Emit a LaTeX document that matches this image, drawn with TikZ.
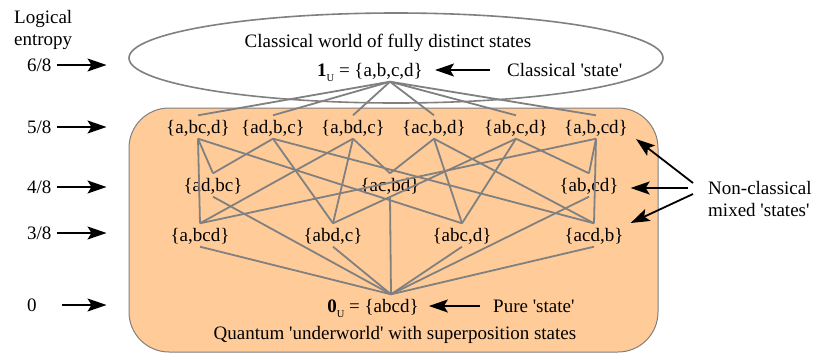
\documentclass[tikz,border=0pt]{standalone}
\usepackage{fontspec}
\setmainfont{Liberation Serif}[Ligatures=TeXOff]
\usepackage{tikz}
\usetikzlibrary{arrows.meta,positioning,shapes.geometric}
\definecolor{edgegray}{HTML}{808080}
\definecolor{peach}{HTML}{FFCC99}
\newcommand{\usub}{\raisebox{-5pt}{\fontsize{10.5}{11}\selectfont U}}

\begin{document}
\begin{tikzpicture}[
  x=1pt,y=-1pt,
  font=\fontsize{19}{22.5}\selectfont,
  state/.style={inner sep=0pt,text height=18pt,text depth=5pt},
  edge/.style={draw=edgegray,line width=1.8pt},
  arrow/.style={-{Stealth[length=19pt,width=13pt,inset=4pt]},line width=1.8pt},
  region/.style={draw=edgegray,line width=1pt,fill=peach,rounded corners=40pt},
  world/.style={ellipse,draw=edgegray,line width=1.6pt,inner sep=0pt},
  lbl/.style={inner sep=0pt,anchor=west,align=left}
]
\useasboundingbox (0,0) rectangle (816,354);
\node[region,minimum width=529pt,minimum height=244pt] (under) at (393.5,230) {};
\node[world,minimum width=534pt,minimum height=90pt] (classic) at (396,58) {};

\node[lbl] (title) at (14,30) {Logical\\entropy};
\node[lbl] (e6) at (27,65) {6/8};
\node[lbl] (e5) at (27,127) {5/8};
\node[lbl] (e4) at (27,187) {4/8};
\node[lbl] (e3) at (27,233) {3/8};
\node[lbl] (e0) at (27,305) {0};
\draw[arrow,shorten <=5pt,shorten >=22pt] (e6.east) -- (e6.east -| under.west);
\draw[arrow,shorten <=5pt,shorten >=22pt] (e5.east) -- (e5.east -| under.west);
\draw[arrow,shorten <=5pt,shorten >=22pt] (e4.east) -- (e4.east -| under.west);
\draw[arrow,shorten <=5pt,shorten >=22pt] (e3.east) -- (e3.east -| under.west);
\draw[arrow,shorten <=25pt,shorten >=22pt] (e0.east) -- (e0.east -| under.west);

\node (cworld) at (388,43) {Classical world of fully distinct states};
\node[state] (one) at (370,70) {\textbf{1}\usub{} = \{a,b,c,d\}};
\node[lbl] (cstate) at (507,70) {Classical 'state'};
\draw[arrow,shorten <=17pt,shorten >=12pt] (cstate.west) -- (one.east);

\node[state] (n1) at (198,127) {\{a,bc,d\}};
\node[state] (n2) at (273,127) {\{ad,b,c\}};
\node[state] (n3) at (353,127) {\{a,bd,c\}};
\node[state] (n4) at (434,127) {\{ac,b,d\}};
\node[state] (n5) at (516,127) {\{ab,c,d\}};
\node[state] (n6) at (596,127) {\{a,b,cd\}};
\node[state] (m1) at (213,185) {\{ad,bc\}};
\node[state] (m2) at (390,185) {\{ac,bd\}};
\node[state] (m3) at (589,185) {\{ab,cd\}};
\node[state] (k1) at (200,235) {\{a,bcd\}};
\node[state] (k2) at (333,235) {\{abd,c\}};
\node[state] (k3) at (462,235) {\{abc,d\}};
\node[state] (k4) at (594,235) {\{acd,b\}};

\node[state] (zero) at (373,306) {\textbf{0}\usub{} = \{abcd\}};
\node[lbl] (pure) at (493,306) {Pure 'state'};
\node (quantum) at (395,335) {Quantum 'underworld' with superposition states};
\draw[arrow,shorten <=13pt,shorten >=10pt] (pure.west) -- (zero.east);

\node[lbl] (mixed) at (708,199) {Non-classical\\mixed 'states'};
\draw[arrow] ([xshift=-15pt,yshift=16pt]mixed.west) -- ([xshift=8pt,yshift=-12pt]n6.east);
\draw[arrow] ([xshift=-20pt,yshift=11pt]mixed.west) -- ([xshift=12pt,yshift=-3pt]m3.east);
\draw[arrow] ([xshift=-15pt,yshift=5pt]mixed.west) -- ([xshift=7pt,yshift=12pt]k4.east);

\coordinate (top) at ([xshift=20pt]one.south);
\coordinate (bot) at ([xshift=18pt]zero.north);
\draw[edge] (top) -- (n1.north);
\draw[edge] (top) -- (n2.north);
\draw[edge] (top) -- (n3.north);
\draw[edge] (top) -- (n4.north);
\draw[edge] (top) -- (n5.north);
\draw[edge] (top) -- (n6.north);
\draw[edge] (n1.south) -- (k1.north);
\draw[edge] (n1.south) -- (m1.north);
\draw[edge] (n1.south) -- (k3.north);
\draw[edge] (n2.south) -- (m1.north);
\draw[edge] (n2.south) -- (k2.north);
\draw[edge] (n2.south) -- (k4.north);
\draw[edge] (n3.south) -- (k1.north);
\draw[edge] (n3.south) -- (k2.north);
\draw[edge] (n3.south) -- (m2.north);
\draw[edge] (n4.south) -- (m2.north);
\draw[edge] (n4.south) -- (k3.north);
\draw[edge] (n4.south) -- (k4.north);
\draw[edge] (n5.south) -- (k2.north);
\draw[edge] (n5.south) -- (k3.north);
\draw[edge] (n5.south) -- (m3.north);
\draw[edge] (n6.south) -- (k1.north);
\draw[edge] (n6.south) -- (m3.north);
\draw[edge] (n6.south) -- (k4.north);
\draw[edge] (m1.south) -- (bot);
\draw[edge] (m2.south) -- (bot);
\draw[edge] (m3.south) -- (bot);
\draw[edge] (k1.south) -- (bot);
\draw[edge] (k2.south) -- (bot);
\draw[edge] (k3.south) -- (bot);
\draw[edge] (k4.south) -- (bot);
\end{tikzpicture}
\end{document}
